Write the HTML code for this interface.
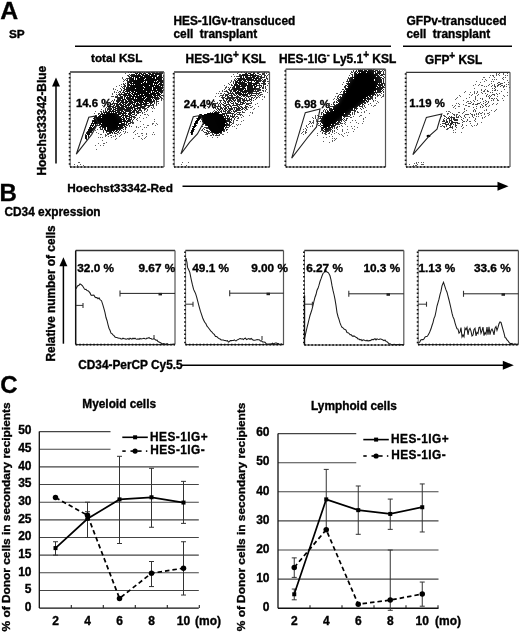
<!DOCTYPE html>
<html><head><meta charset="utf-8"><style>
html,body{margin:0;padding:0;background:#fff;}
#w{position:relative;width:520px;height:635px;overflow:hidden;background:#fff;}
svg{position:absolute;left:0;top:0;will-change:transform;}
text{stroke:#000;stroke-width:.35px;}
</style></head><body><div id="w">
<svg width="520" height="635" viewBox="0 0 520 635" font-family="Liberation Sans" font-weight="bold">
<defs><filter id="b0_6" x="-50%" y="-50%" width="200%" height="200%"><feGaussianBlur stdDeviation="0.6"/></filter><filter id="b1_0" x="-50%" y="-50%" width="200%" height="200%"><feGaussianBlur stdDeviation="1.0"/></filter><filter id="b1_5" x="-50%" y="-50%" width="200%" height="200%"><feGaussianBlur stdDeviation="1.5"/></filter><filter id="b2_0" x="-50%" y="-50%" width="200%" height="200%"><feGaussianBlur stdDeviation="2.0"/></filter><filter id="b2_5" x="-50%" y="-50%" width="200%" height="200%"><feGaussianBlur stdDeviation="2.5"/></filter><filter id="b3_5" x="-50%" y="-50%" width="200%" height="200%"><feGaussianBlur stdDeviation="3.5"/></filter><filter id="b5_0" x="-50%" y="-50%" width="200%" height="200%"><feGaussianBlur stdDeviation="5.0"/></filter><clipPath id="cA0"><rect x="70" y="72" width="94" height="95"/></clipPath><filter id="d0" filterUnits="userSpaceOnUse" x="70" y="72" width="94" height="95" color-interpolation-filters="sRGB"><feGaussianBlur in="SourceAlpha" stdDeviation="0.6" result="d"/><feTurbulence type="fractalNoise" baseFrequency="0.9" numOctaves="2" seed="3" result="n"/><feColorMatrix in="n" type="matrix" values="0 0 0 0 0  0 0 0 0 0  0 0 0 0 0  3 0 0 0 -1"/><feComponentTransfer result="na"><feFuncA type="linear" slope="0.9" intercept="0.05"/></feComponentTransfer><feComposite in="d" in2="na" operator="arithmetic" k1="0" k2="4" k3="-4" k4="0.5" result="c"/><feComponentTransfer in="c" result="m"><feFuncA type="discrete" tableValues="0 1"/></feComponentTransfer><feFlood flood-color="#000"/><feComposite in2="m" operator="in" result="m2"/><feComposite in="m2" in2="d" operator="arithmetic" k1="0.4" k2="0.6" k3="0" k4="0"/></filter><clipPath id="cA1"><rect x="174" y="72" width="95.5" height="95"/></clipPath><filter id="d1" filterUnits="userSpaceOnUse" x="174" y="72" width="95.5" height="95" color-interpolation-filters="sRGB"><feGaussianBlur in="SourceAlpha" stdDeviation="0.6" result="d"/><feTurbulence type="fractalNoise" baseFrequency="0.9" numOctaves="2" seed="10" result="n"/><feColorMatrix in="n" type="matrix" values="0 0 0 0 0  0 0 0 0 0  0 0 0 0 0  3 0 0 0 -1"/><feComponentTransfer result="na"><feFuncA type="linear" slope="0.9" intercept="0.05"/></feComponentTransfer><feComposite in="d" in2="na" operator="arithmetic" k1="0" k2="4" k3="-4" k4="0.5" result="c"/><feComponentTransfer in="c" result="m"><feFuncA type="discrete" tableValues="0 1"/></feComponentTransfer><feFlood flood-color="#000"/><feComposite in2="m" operator="in" result="m2"/><feComposite in="m2" in2="d" operator="arithmetic" k1="0.4" k2="0.6" k3="0" k4="0"/></filter><clipPath id="cA2"><rect x="285.7" y="69.2" width="99.80000000000001" height="97.8"/></clipPath><filter id="d2" filterUnits="userSpaceOnUse" x="285.7" y="69.2" width="99.80000000000001" height="97.8" color-interpolation-filters="sRGB"><feGaussianBlur in="SourceAlpha" stdDeviation="0.6" result="d"/><feTurbulence type="fractalNoise" baseFrequency="0.9" numOctaves="2" seed="17" result="n"/><feColorMatrix in="n" type="matrix" values="0 0 0 0 0  0 0 0 0 0  0 0 0 0 0  3 0 0 0 -1"/><feComponentTransfer result="na"><feFuncA type="linear" slope="0.9" intercept="0.05"/></feComponentTransfer><feComposite in="d" in2="na" operator="arithmetic" k1="0" k2="4" k3="-4" k4="0.5" result="c"/><feComponentTransfer in="c" result="m"><feFuncA type="discrete" tableValues="0 1"/></feComponentTransfer><feFlood flood-color="#000"/><feComposite in2="m" operator="in" result="m2"/><feComposite in="m2" in2="d" operator="arithmetic" k1="0.4" k2="0.6" k3="0" k4="0"/></filter><clipPath id="cA3"><rect x="406" y="72.3" width="104" height="94.7"/></clipPath><filter id="d3" filterUnits="userSpaceOnUse" x="406" y="72.3" width="104" height="94.7" color-interpolation-filters="sRGB"><feGaussianBlur in="SourceAlpha" stdDeviation="0.6" result="d"/><feTurbulence type="fractalNoise" baseFrequency="0.9" numOctaves="2" seed="24" result="n"/><feColorMatrix in="n" type="matrix" values="0 0 0 0 0  0 0 0 0 0  0 0 0 0 0  3 0 0 0 -1"/><feComponentTransfer result="na"><feFuncA type="linear" slope="0.9" intercept="0.05"/></feComponentTransfer><feComposite in="d" in2="na" operator="arithmetic" k1="0" k2="4" k3="-4" k4="0.5" result="c"/><feComponentTransfer in="c" result="m"><feFuncA type="discrete" tableValues="0 1"/></feComponentTransfer><feFlood flood-color="#000"/><feComposite in2="m" operator="in" result="m2"/><feComposite in="m2" in2="d" operator="arithmetic" k1="0.4" k2="0.6" k3="0" k4="0"/></filter></defs>
<text x="0.3" y="18.9" font-size="24.8">A</text>
<text x="9" y="38.2" font-size="11.8">SP</text>
<text x="173.5" y="25" font-size="11.85">HES-1IGv-transduced</text>
<text x="173.5" y="37.5" font-size="11.85">cell&#160; transplant</text>
<line x1="75" y1="46.2" x2="391" y2="46.2" stroke="#000" stroke-width="1.6"/>
<text x="406.5" y="25" font-size="12.0">GFPv-transduced</text>
<text x="406.5" y="37.5" font-size="11.85">cell&#160; transplant</text>
<line x1="403" y1="46.2" x2="512" y2="46.2" stroke="#000" stroke-width="1.6"/>
<text x="91" y="62.4" font-size="11.7">total KSL</text>
<text x="185.6" y="63" font-size="11.85">HES-1IG<tspan dy="-5" font-size="10">+</tspan><tspan dy="5"> KSL</tspan></text>
<text x="279" y="63" font-size="11.95">HES-1IG<tspan dy="-5.5" font-size="9">-</tspan><tspan dy="5.5"> Ly5.1</tspan><tspan dy="-5.5" font-size="10">+</tspan><tspan dy="5.5"> KSL</tspan></text>
<text x="425" y="64" font-size="11.85">GFP<tspan dy="-5" font-size="10">+</tspan><tspan dy="5"> KSL</tspan></text>
<text transform="translate(45.6,175.6) rotate(-90)" font-size="11.9">Hoechst33342-Blue</text>
<line x1="56" y1="85.5" x2="56" y2="163.6" stroke="#000" stroke-width="1.5"/>
<polygon points="52,86.5 60,86.5 56,77.5" fill="#000"/>
<text x="67.3" y="191.6" font-size="11.8">Hoechst33342-Red</text>
<line x1="182.5" y1="186.3" x2="498.5" y2="186.3" stroke="#000" stroke-width="1.5"/>
<polygon points="497.5,181.8 497.5,190.8 508.5,186.3" fill="#000"/>
<text x="-0.5" y="200.8" font-size="24">B</text>
<text x="4.5" y="215.6" font-size="11.85">CD34 expression</text>
<text transform="translate(54.5,361.6) rotate(-90)" font-size="11.85">Relative number of cells</text>
<line x1="63.4" y1="265.3" x2="63.4" y2="343.7" stroke="#000" stroke-width="1.5"/>
<polygon points="59.4,266.3 67.4,266.3 63.4,257.3" fill="#000"/>
<text x="78.2" y="369.2" font-size="11.85">CD34-PerCP Cy5.5</text>
<line x1="181.5" y1="365.2" x2="503.79999999999995" y2="365.2" stroke="#000" stroke-width="1.5"/>
<polygon points="502.79999999999995,360.7 502.79999999999995,369.7 513.8,365.2" fill="#000"/>
<text x="0.3" y="393" font-size="24">C</text>
<line x1="39.3" y1="590.45" x2="198.8" y2="590.45" stroke="#444" stroke-width="1.1"/>
<line x1="39.3" y1="572.8000000000001" x2="198.8" y2="572.8000000000001" stroke="#444" stroke-width="1.1"/>
<line x1="39.3" y1="555.15" x2="198.8" y2="555.15" stroke="#444" stroke-width="1.1"/>
<line x1="39.3" y1="537.5" x2="198.8" y2="537.5" stroke="#444" stroke-width="1.1"/>
<line x1="39.3" y1="519.85" x2="198.8" y2="519.85" stroke="#444" stroke-width="1.1"/>
<line x1="39.3" y1="502.20000000000005" x2="198.8" y2="502.20000000000005" stroke="#444" stroke-width="1.1"/>
<line x1="39.3" y1="484.55" x2="198.8" y2="484.55" stroke="#444" stroke-width="1.1"/>
<line x1="39.3" y1="466.90000000000003" x2="198.8" y2="466.90000000000003" stroke="#444" stroke-width="1.1"/>
<line x1="39.3" y1="449.25" x2="110.5" y2="449.25" stroke="#444" stroke-width="1.1"/>
<line x1="39.3" y1="431.6" x2="110.5" y2="431.6" stroke="#444" stroke-width="1.1"/>
<line x1="39.3" y1="431.6" x2="39.3" y2="608.1" stroke="#111" stroke-width="1.3"/>
<line x1="39.3" y1="608.1" x2="198.8" y2="608.1" stroke="#111" stroke-width="1.4"/>
<line x1="71.3" y1="605.1" x2="71.3" y2="608.1" stroke="#222" stroke-width="1.1"/>
<line x1="103.3" y1="605.1" x2="103.3" y2="608.1" stroke="#222" stroke-width="1.1"/>
<line x1="135.3" y1="605.1" x2="135.3" y2="608.1" stroke="#222" stroke-width="1.1"/>
<line x1="167.3" y1="605.1" x2="167.3" y2="608.1" stroke="#222" stroke-width="1.1"/>
<line x1="199.3" y1="605.1" x2="199.3" y2="608.1" stroke="#222" stroke-width="1.1"/>
<text x="31.5" y="610.8000000000001" font-size="12" text-anchor="end">0</text>
<text x="31.5" y="593.1500000000001" font-size="12" text-anchor="end">5</text>
<text x="31.5" y="575.5000000000001" font-size="12" text-anchor="end">10</text>
<text x="31.5" y="557.85" font-size="12" text-anchor="end">15</text>
<text x="31.5" y="540.2" font-size="12" text-anchor="end">20</text>
<text x="31.5" y="522.5500000000001" font-size="12" text-anchor="end">25</text>
<text x="31.5" y="504.90000000000003" font-size="12" text-anchor="end">30</text>
<text x="31.5" y="487.25" font-size="12" text-anchor="end">35</text>
<text x="31.5" y="469.6" font-size="12" text-anchor="end">40</text>
<text x="31.5" y="451.95" font-size="12" text-anchor="end">45</text>
<text x="31.5" y="434.3" font-size="12" text-anchor="end">50</text>
<text x="55.5" y="625" font-size="12" text-anchor="middle">2</text>
<text x="87.5" y="625" font-size="12" text-anchor="middle">4</text>
<text x="119.5" y="625" font-size="12" text-anchor="middle">6</text>
<text x="151.5" y="625" font-size="12" text-anchor="middle">8</text>
<text x="183.5" y="625" font-size="12" text-anchor="middle">10</text>
<line x1="55.5" y1="541.736" x2="55.5" y2="555.15" stroke="#333" stroke-width="1"/>
<line x1="53.0" y1="541.736" x2="58.0" y2="541.736" stroke="#333" stroke-width="1"/>
<line x1="53.0" y1="555.15" x2="58.0" y2="555.15" stroke="#333" stroke-width="1"/>
<line x1="87.5" y1="502.20000000000005" x2="87.5" y2="537.5" stroke="#333" stroke-width="1"/>
<line x1="85.0" y1="502.20000000000005" x2="90.0" y2="502.20000000000005" stroke="#333" stroke-width="1"/>
<line x1="85.0" y1="537.5" x2="90.0" y2="537.5" stroke="#333" stroke-width="1"/>
<line x1="87.5" y1="511.731" x2="87.5" y2="518.791" stroke="#333" stroke-width="1"/>
<line x1="85.0" y1="511.731" x2="90.0" y2="511.731" stroke="#333" stroke-width="1"/>
<line x1="85.0" y1="518.791" x2="90.0" y2="518.791" stroke="#333" stroke-width="1"/>
<line x1="119.5" y1="456.31000000000006" x2="119.5" y2="543.501" stroke="#333" stroke-width="1"/>
<line x1="117.0" y1="456.31000000000006" x2="122.0" y2="456.31000000000006" stroke="#333" stroke-width="1"/>
<line x1="117.0" y1="543.501" x2="122.0" y2="543.501" stroke="#333" stroke-width="1"/>
<line x1="151.5" y1="468.312" x2="151.5" y2="527.263" stroke="#333" stroke-width="1"/>
<line x1="149.0" y1="468.312" x2="154.0" y2="468.312" stroke="#333" stroke-width="1"/>
<line x1="149.0" y1="527.263" x2="154.0" y2="527.263" stroke="#333" stroke-width="1"/>
<line x1="151.5" y1="561.504" x2="151.5" y2="586.567" stroke="#333" stroke-width="1"/>
<line x1="149.0" y1="561.504" x2="154.0" y2="561.504" stroke="#333" stroke-width="1"/>
<line x1="149.0" y1="586.567" x2="154.0" y2="586.567" stroke="#333" stroke-width="1"/>
<line x1="183.5" y1="481.37300000000005" x2="183.5" y2="523.38" stroke="#333" stroke-width="1"/>
<line x1="181.0" y1="481.37300000000005" x2="186.0" y2="481.37300000000005" stroke="#333" stroke-width="1"/>
<line x1="181.0" y1="523.38" x2="186.0" y2="523.38" stroke="#333" stroke-width="1"/>
<line x1="183.5" y1="541.736" x2="183.5" y2="595.039" stroke="#333" stroke-width="1"/>
<line x1="181.0" y1="541.736" x2="186.0" y2="541.736" stroke="#333" stroke-width="1"/>
<line x1="181.0" y1="595.039" x2="186.0" y2="595.039" stroke="#333" stroke-width="1"/>
<polyline points="55.5,497.6 87.5,515.3 119.5,598.4 151.5,573.2 183.5,568.2" stroke="#000" stroke-width="1.7" fill="none" stroke-dasharray="4.5 3"/>
<circle cx="55.5" cy="497.61100000000005" r="2.75" fill="#000"/>
<circle cx="87.5" cy="515.261" r="2.75" fill="#000"/>
<circle cx="119.5" cy="598.3925" r="2.75" fill="#000"/>
<circle cx="151.5" cy="573.153" r="2.75" fill="#000"/>
<circle cx="183.5" cy="568.211" r="2.75" fill="#000"/>
<polyline points="55.5,548.1 87.5,518.8 119.5,499.4 151.5,497.3 183.5,502.6" stroke="#000" stroke-width="1.7" fill="none"/>
<rect x="53.5" y="546.09" width="4" height="4" fill="#000"/>
<rect x="85.5" y="516.791" width="4" height="4" fill="#000"/>
<rect x="117.5" y="497.37600000000003" width="4" height="4" fill="#000"/>
<rect x="149.5" y="495.25800000000004" width="4" height="4" fill="#000"/>
<rect x="181.5" y="500.55300000000005" width="4" height="4" fill="#000"/>
<text x="195" y="625" font-size="12">(mo)</text>
<text x="82.3" y="407.6" font-size="11.85">Myeloid cells</text>
<text transform="translate(10.3,631.4) rotate(-90)" font-size="11.6" textLength="229" lengthAdjust="spacingAndGlyphs">% of Donor cells in secondary recipients</text>
<line x1="122.3" y1="437.3" x2="147.8" y2="437.3" stroke="#000" stroke-width="1.6"/>
<rect x="133.1" y="435.3" width="4" height="4"/>
<text x="150.1" y="440.6" font-size="11.85" letter-spacing="0.45">HES-1IG+</text>
<line x1="122.3" y1="451.1" x2="125.7" y2="451.1" stroke="#000" stroke-width="1.6"/>
<line x1="130.5" y1="451.1" x2="133.5" y2="451.1" stroke="#000" stroke-width="1.6"/>
<line x1="137.2" y1="451.1" x2="141.6" y2="451.1" stroke="#000" stroke-width="1.6"/>
<line x1="145.9" y1="451.1" x2="147.3" y2="451.1" stroke="#000" stroke-width="1.6"/>
<circle cx="135.1" cy="451.1" r="2.6"/>
<text x="150.2" y="454.1" font-size="11.85" letter-spacing="0.45">HES-1IG-</text>
<line x1="278" y1="579.14" x2="438.5" y2="579.14" stroke="#444" stroke-width="1.1"/>
<line x1="278" y1="550.03" x2="438.5" y2="550.03" stroke="#444" stroke-width="1.1"/>
<line x1="278" y1="520.92" x2="438.5" y2="520.92" stroke="#444" stroke-width="1.1"/>
<line x1="278" y1="491.81" x2="438.5" y2="491.81" stroke="#444" stroke-width="1.1"/>
<line x1="278" y1="462.7" x2="356.25" y2="462.7" stroke="#444" stroke-width="1.1"/>
<line x1="278" y1="433.59000000000003" x2="356.25" y2="433.59000000000003" stroke="#444" stroke-width="1.1"/>
<line x1="278" y1="433.59000000000003" x2="278" y2="608.25" stroke="#111" stroke-width="1.3"/>
<line x1="278" y1="608.25" x2="438.5" y2="608.25" stroke="#111" stroke-width="1.4"/>
<line x1="310" y1="605.25" x2="310" y2="608.25" stroke="#222" stroke-width="1.1"/>
<line x1="342" y1="605.25" x2="342" y2="608.25" stroke="#222" stroke-width="1.1"/>
<line x1="374" y1="605.25" x2="374" y2="608.25" stroke="#222" stroke-width="1.1"/>
<line x1="406" y1="605.25" x2="406" y2="608.25" stroke="#222" stroke-width="1.1"/>
<line x1="438" y1="605.25" x2="438" y2="608.25" stroke="#222" stroke-width="1.1"/>
<text x="269.5" y="610.95" font-size="12" text-anchor="end">0</text>
<text x="269.5" y="581.84" font-size="12" text-anchor="end">10</text>
<text x="269.5" y="552.73" font-size="12" text-anchor="end">20</text>
<text x="269.5" y="523.62" font-size="12" text-anchor="end">30</text>
<text x="269.5" y="494.51" font-size="12" text-anchor="end">40</text>
<text x="269.5" y="465.4" font-size="12" text-anchor="end">50</text>
<text x="269.5" y="436.29" font-size="12" text-anchor="end">60</text>
<text x="294.25" y="625" font-size="12" text-anchor="middle">2</text>
<text x="326.25" y="625" font-size="12" text-anchor="middle">4</text>
<text x="358.25" y="625" font-size="12" text-anchor="middle">6</text>
<text x="390.25" y="625" font-size="12" text-anchor="middle">8</text>
<text x="422.25" y="625" font-size="12" text-anchor="middle">10</text>
<line x1="294.25" y1="589.0374" x2="294.25" y2="599.8081" stroke="#333" stroke-width="1"/>
<line x1="291.75" y1="589.0374" x2="296.75" y2="589.0374" stroke="#333" stroke-width="1"/>
<line x1="291.75" y1="599.8081" x2="296.75" y2="599.8081" stroke="#333" stroke-width="1"/>
<line x1="294.25" y1="557.8897" x2="294.25" y2="577.3934" stroke="#333" stroke-width="1"/>
<line x1="291.75" y1="557.8897" x2="296.75" y2="557.8897" stroke="#333" stroke-width="1"/>
<line x1="291.75" y1="577.3934" x2="296.75" y2="577.3934" stroke="#333" stroke-width="1"/>
<line x1="326.25" y1="469.3953" x2="326.25" y2="529.3619" stroke="#333" stroke-width="1"/>
<line x1="323.75" y1="469.3953" x2="328.75" y2="469.3953" stroke="#333" stroke-width="1"/>
<line x1="323.75" y1="529.3619" x2="328.75" y2="529.3619" stroke="#333" stroke-width="1"/>
<line x1="358.25" y1="485.988" x2="358.25" y2="534.3106" stroke="#333" stroke-width="1"/>
<line x1="355.75" y1="485.988" x2="360.75" y2="485.988" stroke="#333" stroke-width="1"/>
<line x1="355.75" y1="534.3106" x2="360.75" y2="534.3106" stroke="#333" stroke-width="1"/>
<line x1="390.25" y1="499.0875" x2="390.25" y2="529.3619" stroke="#333" stroke-width="1"/>
<line x1="387.75" y1="499.0875" x2="392.75" y2="499.0875" stroke="#333" stroke-width="1"/>
<line x1="387.75" y1="529.3619" x2="392.75" y2="529.3619" stroke="#333" stroke-width="1"/>
<line x1="390.25" y1="550.03" x2="390.25" y2="610.2877" stroke="#333" stroke-width="1"/>
<line x1="387.75" y1="550.03" x2="392.75" y2="550.03" stroke="#333" stroke-width="1"/>
<line x1="387.75" y1="610.2877" x2="392.75" y2="610.2877" stroke="#333" stroke-width="1"/>
<line x1="422.25" y1="483.95029999999997" x2="422.25" y2="531.9818" stroke="#333" stroke-width="1"/>
<line x1="419.75" y1="483.95029999999997" x2="424.75" y2="483.95029999999997" stroke="#333" stroke-width="1"/>
<line x1="419.75" y1="531.9818" x2="424.75" y2="531.9818" stroke="#333" stroke-width="1"/>
<line x1="422.25" y1="582.051" x2="422.25" y2="606.2123" stroke="#333" stroke-width="1"/>
<line x1="419.75" y1="582.051" x2="424.75" y2="582.051" stroke="#333" stroke-width="1"/>
<line x1="419.75" y1="606.2123" x2="424.75" y2="606.2123" stroke="#333" stroke-width="1"/>
<polyline points="294.2,567.5 326.2,529.7 358.2,604.2 390.2,600.1 422.2,594.0" stroke="#000" stroke-width="1.7" fill="none" stroke-dasharray="4.5 3"/>
<circle cx="294.25" cy="567.496" r="2.75" fill="#000"/>
<circle cx="326.25" cy="529.653" r="2.75" fill="#000"/>
<circle cx="358.25" cy="604.1746" r="2.75" fill="#000"/>
<circle cx="390.25" cy="600.0992" r="2.75" fill="#000"/>
<circle cx="422.25" cy="593.9861" r="2.75" fill="#000"/>
<polyline points="294.2,594.3 326.2,499.4 358.2,510.1 390.2,513.9 422.2,507.2" stroke="#000" stroke-width="1.7" fill="none"/>
<rect x="292.25" y="592.2772" width="4" height="4" fill="#000"/>
<rect x="324.25" y="497.3786" width="4" height="4" fill="#000"/>
<rect x="356.25" y="508.1493" width="4" height="4" fill="#000"/>
<rect x="388.25" y="511.93359999999996" width="4" height="4" fill="#000"/>
<rect x="420.25" y="505.2383" width="4" height="4" fill="#000"/>
<text x="435" y="625" font-size="12">(mo)</text>
<text x="311" y="409.6" font-size="11.85">Lymphoid cells</text>
<text transform="translate(245,631.2) rotate(-90)" font-size="11.8" textLength="228.6" lengthAdjust="spacingAndGlyphs">% of Donor cells in secondary recipients</text>
<line x1="363.3" y1="439.6" x2="388.8" y2="439.6" stroke="#000" stroke-width="1.6"/>
<rect x="374.1" y="437.6" width="4" height="4"/>
<text x="391.1" y="443.1" font-size="11.85" letter-spacing="0.45">HES-1IG+</text>
<line x1="363.3" y1="456" x2="366.7" y2="456" stroke="#000" stroke-width="1.6"/>
<line x1="371.5" y1="456" x2="374.5" y2="456" stroke="#000" stroke-width="1.6"/>
<line x1="378.2" y1="456" x2="382.6" y2="456" stroke="#000" stroke-width="1.6"/>
<line x1="386.90000000000003" y1="456" x2="388.3" y2="456" stroke="#000" stroke-width="1.6"/>
<circle cx="376.1" cy="456" r="2.6"/>
<text x="391.2" y="458.9" font-size="11.85" letter-spacing="0.45">HES-1IG-</text>
<line x1="75.7" y1="250.5" x2="175" y2="250.5" stroke="#333" stroke-width="1.3"/>
<line x1="175" y1="250.5" x2="175" y2="344.6" stroke="#555" stroke-width="1.2"/>
<line x1="75.7" y1="250.5" x2="75.7" y2="344.6" stroke="#111" stroke-width="1.5"/>
<line x1="75.7" y1="344.6" x2="175" y2="344.6" stroke="#333" stroke-width="1.2"/>
<line x1="75.7" y1="344.6" x2="175" y2="344.6" stroke="#111" stroke-width="1.7" stroke-dasharray="1.6 1.9"/>
<polyline points="76.0,288.7 77.5,285.9 79.0,285.2 80.0,284.0 81.0,284.4 82.5,285.8 84.0,288.3 85.0,289.5 86.0,289.3 87.0,290.6 88.0,290.8 89.0,291.6 90.0,292.9 91.0,295.0 92.0,295.4 93.0,295.1 94.0,295.2 95.0,297.0 96.0,297.6 97.0,297.6 98.0,298.8 99.0,297.8 100.0,299.6 101.5,300.7 103.0,305.4 104.0,308.9 105.0,312.7 106.0,317.5 107.0,320.5 108.0,324.6 109.0,328.2 110.0,330.3 111.0,333.1 112.0,333.6 113.0,334.8 114.0,335.7 115.0,337.1 116.0,337.4 117.0,337.5 118.0,338.1 119.0,338.2 120.0,338.2 121.0,339.0 122.0,338.9 123.0,338.2 124.0,338.7 125.0,338.7 126.0,339.3 127.0,339.1 128.0,338.4 129.0,339.5 130.0,338.2 131.0,338.7 132.0,339.2 133.0,338.2 134.0,338.8 135.0,338.1 136.0,339.1 137.0,339.2 138.0,338.9 139.0,339.4 140.0,338.5 141.0,339.0 142.0,338.8 143.0,338.6 144.0,338.3 145.0,338.8 146.0,338.9 147.0,338.1 148.0,338.3 149.0,337.4 150.0,338.5 151.0,338.5 152.0,339.2 153.0,339.0 154.0,338.7 155.0,339.3 156.0,340.3 157.0,340.1 158.0,341.6 159.0,342.0 160.0,342.4 161.0,342.8 162.0,344.4 163.0,343.5 164.0,343.7 165.0,344.0 166.0,344.5 167.0,343.6 168.0,344.2 169.0,344.4 170.0,344.5 171.0,344.5 172.0,344.5 173.0,344.1 174.0,344.3 175.0,344.3" stroke="#1a1a1a" stroke-width="1.05" fill="none"/>
<line x1="76" y1="305.4" x2="83" y2="305.4" stroke="#333" stroke-width="1.0"/>
<line x1="83" y1="302.9" x2="83" y2="307.9" stroke="#333" stroke-width="1.1"/>
<line x1="120" y1="293.4" x2="175" y2="293.4" stroke="#222" stroke-width="1.0"/>
<line x1="120" y1="290.4" x2="120" y2="296.4" stroke="#333" stroke-width="1.1"/>
<rect x="158.5" y="292.9" width="3.5" height="2.5" fill="#222"/>
<text x="77.3" y="271.9" font-size="11.8">32.0 %</text>
<text x="138.5" y="271.9" font-size="11.8">9.67 %</text>
<line x1="185.4" y1="250.5" x2="283.5" y2="250.5" stroke="#333" stroke-width="1.3"/>
<line x1="283.5" y1="250.5" x2="283.5" y2="344.6" stroke="#555" stroke-width="1.2"/>
<line x1="185.6" y1="250.5" x2="185.6" y2="344.6" stroke="#666" stroke-width="1.0"/>
<line x1="185.0" y1="251.5" x2="185.0" y2="344.6" stroke="#111" stroke-width="1.7" stroke-dasharray="1.5 2.6"/>
<line x1="185.4" y1="344.6" x2="283.5" y2="344.6" stroke="#333" stroke-width="1.2"/>
<line x1="185.4" y1="344.6" x2="283.5" y2="344.6" stroke="#111" stroke-width="1.7" stroke-dasharray="1.6 1.9"/>
<polyline points="186.0,258.1 187.0,262.7 187.5,267.4 188.7,269.8 189.8,272.3 191.3,279.8 192.4,284.7 193.6,289.4 194.6,291.5 195.6,293.6 196.6,296.8 198.1,302.7 199.2,306.8 200.4,311.2 201.6,314.6 202.7,318.0 203.7,320.2 204.7,322.3 205.7,323.4 207.0,326.2 208.2,327.5 209.5,329.2 210.7,330.8 212.0,332.0 213.2,333.7 214.3,334.4 215.5,336.4 216.7,336.6 217.8,337.7 218.9,338.5 220.1,339.0 221.2,339.9 222.3,340.0 223.3,340.0 224.3,340.4 225.4,340.5 226.4,341.0 227.4,340.6 228.4,342.1 229.4,341.5 230.4,340.6 231.4,340.6 232.4,340.5 233.4,340.4 234.4,339.8 235.4,340.8 236.4,340.8 237.4,339.7 238.4,339.6 239.4,338.7 240.4,338.6 241.4,338.9 242.4,338.7 243.4,339.6 244.5,338.5 245.5,338.2 246.5,339.6 247.7,339.0 248.8,338.5 250.0,339.3 251.2,338.5 252.3,339.5 253.5,340.3 254.7,340.2 255.8,340.1 257.0,339.5 258.1,339.8 259.2,339.7 260.4,340.9 261.5,340.8 262.6,341.9 263.8,342.0 265.0,342.3 266.1,343.6 267.3,344.3 268.3,344.1 269.3,344.1 270.3,344.1 271.4,344.0 272.4,343.2 273.4,343.7 274.4,343.5 275.4,343.0 276.4,343.0 277.4,343.5 278.4,343.5 279.4,344.2 280.5,344.5 281.5,343.9 282.5,344.5 283.5,344.5" stroke="#1a1a1a" stroke-width="1.05" fill="none"/>
<line x1="186" y1="304.2" x2="193" y2="304.2" stroke="#333" stroke-width="1.0"/>
<line x1="193" y1="301.7" x2="193" y2="306.7" stroke="#333" stroke-width="1.1"/>
<line x1="229.7" y1="293.2" x2="283.5" y2="293.2" stroke="#222" stroke-width="1.0"/>
<line x1="229.7" y1="290.2" x2="229.7" y2="296.2" stroke="#333" stroke-width="1.1"/>
<rect x="266.5" y="292.7" width="3.5" height="2.5" fill="#222"/>
<text x="192.3" y="271.9" font-size="11.8">49.1 %</text>
<text x="251.2" y="271.9" font-size="11.8">9.00 %</text>
<line x1="304.3" y1="250.5" x2="403.8" y2="250.5" stroke="#333" stroke-width="1.3"/>
<line x1="403.8" y1="250.5" x2="403.8" y2="345" stroke="#555" stroke-width="1.2"/>
<line x1="304.5" y1="250.5" x2="304.5" y2="345" stroke="#666" stroke-width="1.0"/>
<line x1="303.90000000000003" y1="251.5" x2="303.90000000000003" y2="345" stroke="#111" stroke-width="1.7" stroke-dasharray="1.5 2.6"/>
<line x1="304.3" y1="345" x2="403.8" y2="345" stroke="#333" stroke-width="1.2"/>
<line x1="304.3" y1="345" x2="403.8" y2="345" stroke="#111" stroke-width="1.7" stroke-dasharray="1.6 1.9"/>
<polyline points="304.5,338.7 305.8,332.8 307.0,327.6 308.0,323.6 309.0,319.5 310.0,315.5 311.0,312.5 312.0,309.3 313.0,305.5 314.0,301.0 315.0,297.2 316.0,294.5 317.0,290.3 318.0,288.3 319.0,285.2 320.0,281.5 321.0,278.9 322.0,276.0 323.0,273.5 324.0,272.5 325.5,270.2 327.0,272.0 328.5,272.8 330.0,275.8 331.0,279.8 332.0,285.7 333.0,290.4 334.0,294.5 335.0,299.4 336.0,305.4 337.0,312.6 338.0,316.5 339.0,319.4 340.0,322.9 341.0,325.4 342.0,327.3 343.0,327.8 344.0,329.1 345.0,329.4 346.0,330.2 347.0,332.5 348.0,332.7 349.0,333.3 350.0,334.7 351.0,334.5 352.0,335.8 353.0,336.3 354.0,335.9 355.0,336.6 356.0,337.3 357.0,337.8 358.0,338.9 359.0,339.0 360.0,339.9 361.0,339.5 362.0,340.8 363.0,339.9 364.0,340.1 365.0,340.4 366.0,340.9 367.0,340.2 368.0,341.1 369.0,340.5 370.0,340.6 371.0,340.3 372.0,339.3 373.0,339.8 374.0,339.2 375.0,338.7 376.0,339.9 377.0,338.8 378.0,339.2 379.0,339.5 380.0,339.1 381.0,339.0 382.0,339.6 383.0,340.0 384.0,340.7 385.0,339.9 386.0,341.4 387.0,341.8 388.0,342.6 389.0,343.8 390.0,343.8 391.0,344.2 392.0,344.5 393.1,344.5 394.1,344.4 395.2,344.5 396.3,344.5 397.4,344.5 398.4,344.5 399.5,344.4 400.6,344.5 401.7,344.5 402.7,344.5 403.8,344.5" stroke="#1a1a1a" stroke-width="1.05" fill="none"/>
<line x1="304.3" y1="304.2" x2="312.4" y2="304.2" stroke="#333" stroke-width="1.0"/>
<line x1="312.4" y1="301.7" x2="312.4" y2="306.7" stroke="#333" stroke-width="1.1"/>
<line x1="348.8" y1="293.8" x2="403.8" y2="293.8" stroke="#222" stroke-width="1.0"/>
<line x1="348.8" y1="290.8" x2="348.8" y2="296.8" stroke="#333" stroke-width="1.1"/>
<rect x="386.5" y="293.3" width="3.5" height="2.5" fill="#222"/>
<text x="306.2" y="271.9" font-size="11.8">6.27 %</text>
<text x="363.4" y="271.9" font-size="11.8">10.3 %</text>
<line x1="418" y1="250.5" x2="518.4" y2="250.5" stroke="#333" stroke-width="1.3"/>
<line x1="518.4" y1="250.5" x2="518.4" y2="344.6" stroke="#555" stroke-width="1.2"/>
<line x1="418.2" y1="250.5" x2="418.2" y2="344.6" stroke="#666" stroke-width="1.0"/>
<line x1="417.6" y1="251.5" x2="417.6" y2="344.6" stroke="#111" stroke-width="1.7" stroke-dasharray="1.5 2.6"/>
<line x1="418" y1="344.6" x2="518.4" y2="344.6" stroke="#333" stroke-width="1.2"/>
<line x1="418" y1="344.6" x2="518.4" y2="344.6" stroke="#111" stroke-width="1.7" stroke-dasharray="1.6 1.9"/>
<polyline points="418.5,342.9 419.7,342.1 420.8,340.0 422.0,339.6 423.0,339.6 424.0,338.8 425.0,337.1 426.0,336.5 427.0,336.5 428.0,335.3 429.0,333.6 430.0,331.3 431.0,328.8 432.0,325.5 433.0,322.6 434.0,318.3 435.0,316.1 436.0,311.5 437.0,306.0 438.0,302.6 439.0,299.2 440.0,294.6 441.0,291.2 442.0,285.8 443.5,282.3 445.0,286.8 446.0,289.9 447.0,292.2 448.0,296.2 449.0,300.0 450.0,304.2 451.0,308.5 452.0,313.2 453.0,316.9 454.0,318.9 455.0,322.8 456.0,326.1 457.0,328.8 458.0,329.1 459.0,333.2 460.0,332.1 461.0,327.6 462.0,336.9 463.0,334.9 464.0,336.7 465.0,328.0 466.0,329.7 467.0,327.4 468.0,334.8 469.0,329.7 470.0,328.3 471.0,331.2 472.0,336.0 473.0,335.0 474.0,329.4 475.0,328.2 476.0,335.9 477.0,332.4 478.0,333.6 479.0,327.4 480.0,327.1 481.0,333.3 482.0,330.7 483.0,327.1 484.0,335.7 485.0,332.6 486.0,334.2 487.0,327.0 488.0,334.7 489.0,326.7 490.0,334.6 491.0,330.4 492.0,329.1 493.0,331.2 494.0,334.8 495.0,328.1 496.0,326.5 497.0,330.4 498.0,327.4 499.0,323.8 500.0,321.9 501.0,322.3 502.0,326.0 503.0,329.7 504.0,333.2 505.0,337.4 506.0,338.2 507.0,340.0 508.0,340.8 509.0,342.4 510.0,343.2 511.0,343.7 512.0,343.3 513.0,344.5 514.0,344.3 515.0,343.8 516.0,344.3 517.0,344.5 518.0,343.9" stroke="#1a1a1a" stroke-width="1.05" fill="none"/>
<line x1="418" y1="304.2" x2="426.5" y2="304.2" stroke="#333" stroke-width="1.0"/>
<line x1="426.5" y1="301.7" x2="426.5" y2="306.7" stroke="#333" stroke-width="1.1"/>
<line x1="463.5" y1="293.8" x2="518.4" y2="293.8" stroke="#222" stroke-width="1.0"/>
<line x1="463.5" y1="290.8" x2="463.5" y2="296.8" stroke="#333" stroke-width="1.1"/>
<rect x="501.5" y="293.3" width="3.5" height="2.5" fill="#222"/>
<text x="418.5" y="271.9" font-size="11.8">1.13 %</text>
<text x="473.9" y="271.9" font-size="11.8">33.6 %</text>
<line x1="154" y1="335" x2="154" y2="339" stroke="#222" stroke-width="1"/>
<line x1="262" y1="336" x2="262" y2="340" stroke="#222" stroke-width="1"/>
<line x1="304.5" y1="295.5" x2="304.5" y2="345" stroke="#111" stroke-width="1.4"/>
<g clip-path="url(#cA0)"><g filter="url(#d0)">
<ellipse cx="130" cy="104" rx="42" ry="18" transform="rotate(-45 130 104)" fill="#000" fill-opacity="0.12" filter="url(#b5_0)"/>
<ellipse cx="146" cy="130" rx="16" ry="10" transform="rotate(-40 146 130)" fill="#000" fill-opacity="0.05" filter="url(#b4_0)"/>
<ellipse cx="105" cy="140" rx="22" ry="12" transform="rotate(-40 105 140)" fill="#000" fill-opacity="0.05" filter="url(#b5_0)"/>
<ellipse cx="80" cy="164" rx="8" ry="3" transform="rotate(0 80 164)" fill="#000" fill-opacity="0.12" filter="url(#b2_0)"/>
<ellipse cx="119" cy="95" rx="13" ry="6" transform="rotate(-50 119 95)" fill="#000" fill-opacity="0.1" filter="url(#b3_5)"/>
<polygon points="108,109 114,100 122,89 128,79 132,72 164,72 164,93 153,103 143,111 134,119 127,126 116,130 106,122" fill="#000" fill-opacity="0.74" filter="url(#b3_5)"/>
<polygon points="128,80 133,72 164,72 164,96 152,104 140,106 130,98" fill="#000" fill-opacity="0.72" filter="url(#b3_5)"/>
<polygon points="95.6,115.8 102.9,111.3 112,110.4 117.5,115.8 121.2,123.2 119.3,130.5 113.8,134.1 106.5,133.2 99.2,126.8 95.6,122.2" fill="#000" fill-opacity="0.95" filter="url(#b2_0)"/>
<ellipse cx="122" cy="124" rx="9" ry="6" transform="rotate(-30 122 124)" fill="#000" fill-opacity="0.5" filter="url(#b2_5)"/>
<polygon points="95,115 100,119 87,140 84,138" fill="#000" fill-opacity="0.85" filter="url(#b0_6)"/>
</g></g>
<line x1="70" y1="72" x2="164" y2="72" stroke="#333" stroke-width="1.3"/>
<line x1="164" y1="72" x2="164" y2="167" stroke="#555" stroke-width="1.2"/>
<line x1="70.2" y1="72" x2="70.2" y2="167" stroke="#666" stroke-width="1.0"/>
<line x1="69.6" y1="73" x2="69.6" y2="167" stroke="#111" stroke-width="1.7" stroke-dasharray="1.5 2.6"/>
<line x1="70" y1="167" x2="164" y2="167" stroke="#333" stroke-width="1.2"/>
<line x1="70" y1="167" x2="164" y2="167" stroke="#111" stroke-width="1.7" stroke-dasharray="1.6 1.9"/>
<polygon points="76.3,154.2 88.8,117.3 94.5,116.1 98,123 91.6,134.6 85.3,142.7" fill="none" stroke="#222" stroke-width="1.1"/>
<text x="75.9" y="107" font-size="11.4">14.6 %</text>
<g clip-path="url(#cA1)"><g filter="url(#d1)">
<ellipse cx="234" cy="104" rx="44" ry="20" transform="rotate(-45 234 104)" fill="#000" fill-opacity="0.1" filter="url(#b5_0)"/>
<ellipse cx="186" cy="164" rx="8" ry="3" transform="rotate(0 186 164)" fill="#000" fill-opacity="0.1" filter="url(#b2_0)"/>
<polygon points="214,111 222,94 236,77 242,72 269,72 269,88 265,90 247,108.5 228.8,126.8 222,130" fill="#000" fill-opacity="0.55" filter="url(#b2_5)"/>
<ellipse cx="246" cy="84" rx="14" ry="10" transform="rotate(-40 246 84)" fill="#000" fill-opacity="0.55" filter="url(#b3_0)"/>
<ellipse cx="216" cy="124" rx="15" ry="12" transform="rotate(-20 216 124)" fill="#000" fill-opacity="0.4" filter="url(#b3_0)"/>
<polygon points="201.4,114.9 207.8,113.1 216,112.2 222.4,115 226.1,120.4 225.2,126.8 222.4,132.3 216.9,134.1 211.5,132.3 207.8,126.8 205,124 202.3,123.2" fill="#000" fill-opacity="0.95" filter="url(#b1_3)"/>
<polygon points="200.5,113.5 203,115.5 198.5,121 196,126.5 193.5,131.5 192,135.5 190.2,134.8 191.5,129.5 194,123.5 197.5,117.5" fill="#000" fill-opacity="1" filter="url(#b0_6)"/>
</g></g>
<line x1="174" y1="72" x2="269.5" y2="72" stroke="#333" stroke-width="1.3"/>
<line x1="269.5" y1="72" x2="269.5" y2="167" stroke="#555" stroke-width="1.2"/>
<line x1="174.2" y1="72" x2="174.2" y2="167" stroke="#666" stroke-width="1.0"/>
<line x1="173.6" y1="73" x2="173.6" y2="167" stroke="#111" stroke-width="1.7" stroke-dasharray="1.5 2.6"/>
<line x1="174" y1="167" x2="269.5" y2="167" stroke="#333" stroke-width="1.2"/>
<line x1="174" y1="167" x2="269.5" y2="167" stroke="#111" stroke-width="1.7" stroke-dasharray="1.6 1.9"/>
<polygon points="180.9,154 193.3,116.8 200.9,115.3 203.3,123.3 197.4,134 189.7,142.2" fill="none" stroke="#222" stroke-width="1.1"/>
<text x="183.8" y="108" font-size="11.4">24.4%</text>
<g clip-path="url(#cA2)"><g filter="url(#d2)">
<ellipse cx="352" cy="106" rx="50" ry="22" transform="rotate(-48 352 106)" fill="#000" fill-opacity="0.07" filter="url(#b5_0)"/>
<polygon points="319,112 330,106 340,92 352,70 380,69.5 386,88 372,103 350,119 334,133 322,135" fill="#000" fill-opacity="0.25" filter="url(#b3_0)"/>
<polygon points="321.5,114.2 330,109.6 336.9,103.5 343,92.7 348.5,81.9 354.6,72.7 357.7,69.5 372,69.5 377,80 379.2,90 368,100 356,108.5 346,116 337,123.5 329.5,129.6 323.8,132.7 320.8,128 320.5,122" fill="#000" fill-opacity="1" filter="url(#b2_0)"/>
<polygon points="368,69.5 386,69.5 386,95 379,94" fill="#000" fill-opacity="0.6" filter="url(#b2_0)"/>
<polygon points="301,133 314,115 318,117 305,135" fill="#000" fill-opacity="0.3" filter="url(#b1_0)"/>
</g></g>
<line x1="285.7" y1="69.2" x2="385.5" y2="69.2" stroke="#333" stroke-width="1.3"/>
<line x1="385.5" y1="69.2" x2="385.5" y2="167" stroke="#555" stroke-width="1.2"/>
<line x1="285.9" y1="69.2" x2="285.9" y2="167" stroke="#666" stroke-width="1.0"/>
<line x1="285.3" y1="70.2" x2="285.3" y2="167" stroke="#111" stroke-width="1.7" stroke-dasharray="1.5 2.6"/>
<line x1="285.7" y1="167" x2="385.5" y2="167" stroke="#333" stroke-width="1.2"/>
<line x1="285.7" y1="167" x2="385.5" y2="167" stroke="#111" stroke-width="1.7" stroke-dasharray="1.6 1.9"/>
<polygon points="291.7,158.2 305.3,112.7 320,108.9 318.8,115 316.5,126.9 307.6,137.5" fill="none" stroke="#222" stroke-width="1.1"/>
<text x="294.4" y="108" font-size="11.4">6.98 %</text>
<g clip-path="url(#cA3)"><g filter="url(#d3)">
<polygon points="452,124 462,112 480,94 496,78 504,72 510,72 510,86 500,96 484,110 468,124 458,130" fill="#000" fill-opacity="0.2" filter="url(#b3_5)"/>
<ellipse cx="478" cy="102" rx="40" ry="20" transform="rotate(-40 478 102)" fill="#000" fill-opacity="0.07" filter="url(#b5_0)"/>
<ellipse cx="450" cy="122" rx="9" ry="7" transform="rotate(-20 450 122)" fill="#000" fill-opacity="0.55" filter="url(#b2_0)"/>
<ellipse cx="418" cy="165" rx="9" ry="2.5" transform="rotate(0 418 165)" fill="#000" fill-opacity="0.15" filter="url(#b1_5)"/>
</g></g>
<ellipse cx="428.5" cy="136" rx="2" ry="1.3" fill="#000"/>
<line x1="406" y1="72.3" x2="510" y2="72.3" stroke="#333" stroke-width="1.3"/>
<line x1="510" y1="72.3" x2="510" y2="167" stroke="#555" stroke-width="1.2"/>
<line x1="406.2" y1="72.3" x2="406.2" y2="167" stroke="#666" stroke-width="1.0"/>
<line x1="405.6" y1="73.3" x2="405.6" y2="167" stroke="#111" stroke-width="1.7" stroke-dasharray="1.5 2.6"/>
<line x1="406" y1="167" x2="510" y2="167" stroke="#333" stroke-width="1.2"/>
<line x1="406" y1="167" x2="510" y2="167" stroke="#111" stroke-width="1.7" stroke-dasharray="1.6 1.9"/>
<polygon points="412.9,154.6 426.4,117.4 441.8,113.9 439.4,121 437,129.2 428.8,136.3" fill="none" stroke="#222" stroke-width="1.1"/>
<text x="409.3" y="106.8" font-size="11.4">1.19 %</text>
</svg></div></body></html>
